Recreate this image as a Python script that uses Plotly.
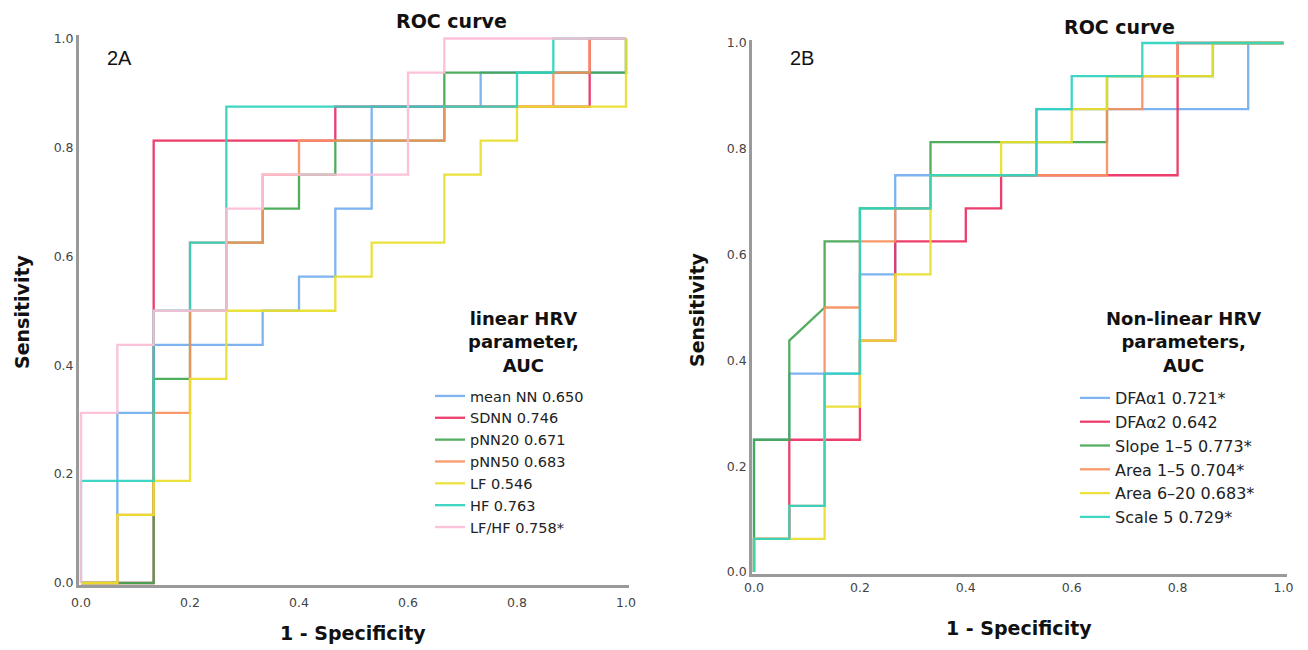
import plotly.graph_objects as go

# ---------------- data: ROC step vertices as counts ----------------
# x = false positives out of N_NEG, y = true positives out of N_POS
N_NEG = 15
N_POS = 16

# Panel 2A - linear HRV parameters
left_names = ["mean NN 0.650", "SDNN 0.746", "pNN20 0.671", "pNN50 0.683",
              "LF 0.546", "HF 0.763", "LF/HF 0.758*"]
meannn_fp = [0, 1, 1, 2, 2, 5, 5, 6, 6, 7, 7, 8, 8, 11, 11, 15, 15]
meannn_tp = [0, 0, 5, 5, 7, 7, 8, 8, 9, 9, 11, 11, 14, 14, 15, 15, 16]
sdnn_fp = [0, 2, 2, 7, 7, 14, 14, 15]
sdnn_tp = [0, 0, 13, 13, 14, 14, 16, 16]
pnn20_fp = [0, 2, 2, 3, 3, 4, 4, 5, 5, 6, 6, 7, 7, 10, 10, 15, 15]
pnn20_tp = [0, 0, 6, 6, 8, 8, 10, 10, 11, 11, 12, 12, 13, 13, 15, 15, 16]
pnn50_fp = [0, 1, 1, 2, 2, 3, 3, 5, 5, 6, 6, 10, 10, 13, 13, 14, 14, 15]
pnn50_tp = [0, 0, 2, 2, 5, 5, 10, 10, 12, 12, 13, 13, 14, 14, 15, 15, 16, 16]
lf_fp = [0, 1, 1, 2, 2, 3, 3, 4, 4, 7, 7, 8, 8, 10, 10, 11, 11, 12, 12, 15, 15]
lf_tp = [0, 0, 2, 2, 3, 3, 6, 6, 8, 8, 9, 9, 10, 10, 12, 12, 13, 13, 14, 14, 16]
hf_fp = [0, 0, 2, 2, 3, 3, 4, 4, 12, 12, 13, 13, 15]
hf_tp = [0, 3, 3, 8, 8, 10, 10, 14, 14, 15, 15, 16, 16]
lfhf_fp = [0, 0, 1, 1, 2, 2, 4, 4, 5, 5, 9, 9, 10, 10, 15]
lfhf_tp = [0, 5, 5, 7, 7, 8, 8, 11, 11, 12, 12, 15, 15, 16, 16]

# Panel 2B - non-linear HRV parameters
right_names = ["DFA\u03b11 0.721*", "DFA\u03b12 0.642", "Slope 1\u20135 0.773*",
               "Area 1\u20135 0.704*", "Area 6\u201320 0.683*", "Scale 5 0.729*"]
dfa1_fp = [0, 0, 1, 1, 3, 3, 4, 4, 8, 8, 14, 14, 15]
dfa1_tp = [0, 4, 4, 6, 6, 9, 9, 12, 12, 14, 14, 16, 16]
dfa2_fp = [0, 0, 1, 1, 3, 3, 4, 4, 6, 6, 7, 7, 12, 12, 15]
dfa2_tp = [0, 1, 1, 4, 4, 7, 7, 10, 10, 11, 11, 12, 12, 16, 16]
slope_fp = [0, 0, 1, 1, 2, 2, 3, 3, 5, 5, 10, 10, 13, 13, 15]
slope_tp = [0, 4, 4, 7, 8, 10, 10, 11, 11, 13, 13, 15, 15, 16, 16]
area15_fp = [0, 0, 1, 1, 2, 2, 3, 3, 4, 4, 5, 5, 10, 10, 11, 11, 12, 12, 15]
area15_tp = [0, 1, 1, 2, 2, 8, 8, 10, 10, 11, 11, 12, 12, 14, 14, 15, 15, 16, 16]
area620_fp = [0, 0, 2, 2, 3, 3, 4, 4, 5, 5, 7, 7, 9, 9, 10, 10, 13, 13, 15]
area620_tp = [0, 1, 1, 5, 5, 7, 7, 9, 9, 12, 12, 13, 13, 14, 14, 15, 15, 16, 16]
scale5_fp = [0, 0, 1, 1, 2, 2, 3, 3, 5, 5, 8, 8, 9, 9, 11, 11, 15]
scale5_tp = [0, 1, 1, 2, 2, 6, 6, 11, 11, 12, 12, 14, 14, 15, 15, 16, 16]

tick_vals = [0, 0.2, 0.4, 0.6, 0.8, 1.0]
tick_text = ["0.0", "0.2", "0.4", "0.6", "0.8", "1.0"]

# ---------------- styling ----------------
BLUE = "#74aef0"
RED = "#ec2f62"
GREEN = "#45a853"
ORANGE = "#f79160"
YELLOW = "#e9df2c"
TEAL = "#2fd3bf"
PINK = "#fbbdd6"

OFF = 8                      # page body margin
W, H = 1308 - OFF, 650 - OFF
FONT = "DejaVu Sans"


def px(x):   # page x pixel -> paper fraction
    return (x - OFF) / W


def py(y):   # page y pixel -> paper fraction
    return 1 - (y - OFF) / H


left_series = [(meannn_fp, meannn_tp, BLUE), (sdnn_fp, sdnn_tp, RED),
               (pnn20_fp, pnn20_tp, GREEN), (pnn50_fp, pnn50_tp, ORANGE),
               (lf_fp, lf_tp, YELLOW), (hf_fp, hf_tp, TEAL), (lfhf_fp, lfhf_tp, PINK)]
right_series = [(dfa1_fp, dfa1_tp, BLUE), (dfa2_fp, dfa2_tp, RED),
                (slope_fp, slope_tp, GREEN), (area15_fp, area15_tp, ORANGE),
                (area620_fp, area620_tp, YELLOW), (scale5_fp, scale5_tp, TEAL)]

fig = go.Figure()

for name, (fp, tp, col) in zip(left_names, left_series):
    fig.add_trace(go.Scatter(
        x=[v / N_NEG for v in fp], y=[v / N_POS for v in tp],
        mode="lines", name=name, line=dict(color=col, width=2.3),
        opacity=0.92, xaxis="x", yaxis="y", legend="legend"))

for name, (fp, tp, col) in zip(right_names, right_series):
    fig.add_trace(go.Scatter(
        x=[v / N_NEG for v in fp], y=[v / N_POS for v in tp],
        mode="lines", name=name, line=dict(color=col, width=2.3),
        opacity=0.92, xaxis="x2", yaxis="y2", legend="legend2"))

PAD_LO, PAD_HI = 0.004, 0.006


def xdom(p0, p1):
    span = p1 - p0
    return [px(p0 - PAD_LO * span), px(p1 + PAD_HI * span)]


def ydom(p0, p1):  # p0 = page pixel of value 0 (bottom), p1 = of value 1 (top)
    span = p0 - p1
    return [py(p0 + PAD_LO * span), py(p1 - PAD_HI * span)]


def axis(**extra):
    d = dict(
        range=[-PAD_LO, 1 + PAD_HI], showgrid=False, zeroline=False,
        showline=True, linecolor="#9a9a9a", linewidth=2.5, ticks="",
        tickvals=tick_vals, ticktext=tick_text, layer="below traces",
        tickfont=dict(family=FONT, size=12.5, color="#444"), automargin=False,
        fixedrange=True)
    d.update(extra)
    return d


fig.update_layout(
    width=W, height=H,
    margin=dict(l=0, r=0, t=0, b=0),
    paper_bgcolor="white", plot_bgcolor="white",
    xaxis=axis(domain=xdom(81, 626), anchor="y", ticklabelstandoff=4),
    yaxis=axis(domain=ydom(583, 38.5), anchor="x"),
    xaxis2=axis(domain=xdom(754, 1283.5), anchor="y2"),
    yaxis2=axis(domain=ydom(572, 43), anchor="x2"),
    legend=dict(
        x=px(430), y=py(380), xanchor="left", yanchor="top",
        bgcolor="rgba(0,0,0,0)", tracegroupgap=0,
        font=dict(family=FONT, size=14.5, color="#222")),
    legend2=dict(
        x=px(1075), y=py(381), xanchor="left", yanchor="top",
        bgcolor="rgba(0,0,0,0)", tracegroupgap=0,
        font=dict(family=FONT, size=16, color="#222")),
    showlegend=True,
)

ann = [
    dict(text="<b>ROC curve</b>", x=451, y=21, size=19, family=FONT, angle=0),
    dict(text="<b>ROC curve</b>", x=1119, y=27, size=19, family=FONT, angle=0),
    dict(text="<b>linear HRV<br>parameter,<br>AUC</b>", x=523, y=342, size=18, family=FONT, angle=0),
    dict(text="<b>Non-linear HRV<br>parameters,<br>AUC</b>", x=1183, y=342, size=18, family=FONT, angle=0),
    dict(text="<b>Sensitivity</b>", x=22, y=312, size=19, family=FONT, angle=-90),
    dict(text="<b>Sensitivity</b>", x=697, y=310, size=19, family=FONT, angle=-90),
    dict(text="<b>1 - Specificity</b>", x=353, y=633, size=19, family=FONT, angle=0),
    dict(text="<b>1 - Specificity</b>", x=1019, y=628, size=19, family=FONT, angle=0),
]
for a in ann:
    fig.add_annotation(text=a["text"], x=px(a["x"]), y=py(a["y"]), xref="paper", yref="paper",
                       xanchor="center", yanchor="middle", align="center", showarrow=False,
                       textangle=a["angle"],
                       font=dict(family=a["family"], size=a["size"], color="#111"))

for label, x in (("2A", 105), ("2B", 788)):
    fig.add_annotation(text=label, x=px(x), y=py(58), xref="paper", yref="paper",
                       xanchor="left", yanchor="middle", showarrow=False,
                       font=dict(family="Liberation Sans", size=20, color="#111"))

fig.write_html("out.html")
